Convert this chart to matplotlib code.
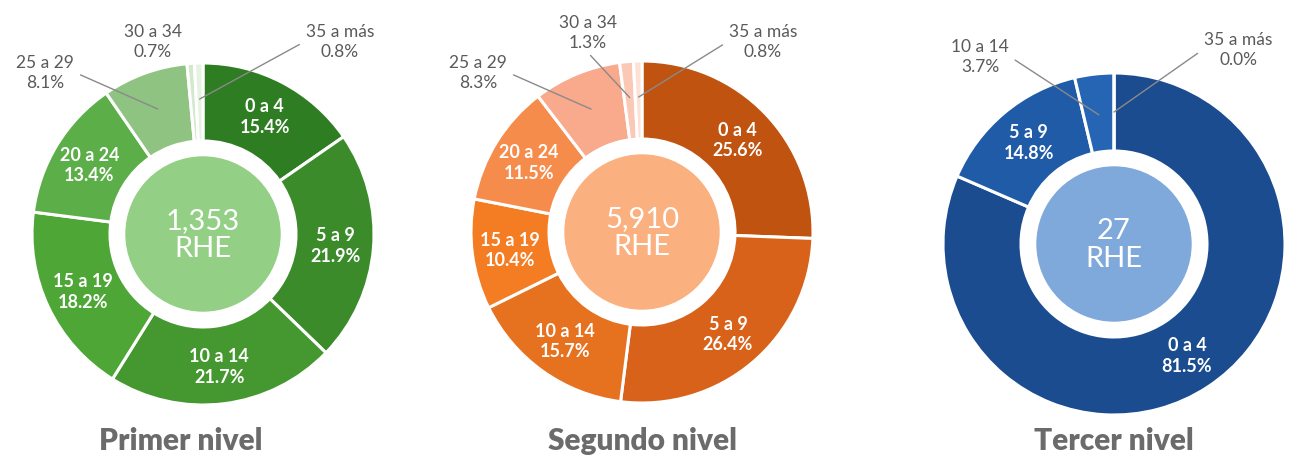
import numpy as np
import matplotlib
matplotlib.use("Agg")
import matplotlib.pyplot as plt

plt.rcParams['font.family'] = ['Lato', 'DejaVu Sans']

# data (percent of RHE by age group)
cats_1 = ["0 a 4", "5 a 9", "10 a 14", "15 a 19", "20 a 24", "25 a 29", "30 a 34", "35 a más"]
pct_1 = [15.4, 21.9, 21.7, 18.2, 13.4, 8.1, 0.7, 0.8]
total_1 = "1,353"

cats_2 = ["0 a 4", "5 a 9", "10 a 14", "15 a 19", "20 a 24", "25 a 29", "30 a 34", "35 a más"]
pct_2 = [25.6, 26.4, 15.7, 10.4, 11.5, 8.3, 1.3, 0.8]
total_2 = "5,910"

cats_3 = ["0 a 4", "5 a 9", "10 a 14", "35 a más"]
pct_3 = [81.5, 14.8, 3.7, 0.0]
total_3 = "27"

titles = ["Primer nivel", "Segundo nivel", "Tercer nivel"]

greens = ["#2f7d22", "#3b8b2b", "#45972f", "#4da636", "#5cae48", "#8fc381", "#d3e8cc", "#e6f2e2"]
oranges = ["#bf530f", "#d8621a", "#e6711f", "#f47c22", "#f68c4b", "#f9a98c", "#fbc8b6", "#fde1d6"]
blues = ["#1b4c90", "#1f5ba7", "#2664b4", "#2d6cc0"]
centers_col = ["#93cf85", "#fbb07f", "#7fa9db"]

H = 456
fig = plt.figure(figsize=(12.91, 4.56), dpi=100)
ax = fig.add_axes([0, 0, 1, 1])

R_OUT = 171
R_IN = 93
R_LAB = 133

donuts = [
    dict(cats=cats_1, pct=pct_1, total=total_1, colors=greens, c=(203, H - 235),
         outside={"25 a 29": ((45, H - 73), (1, 0.5), R_LAB),
                  "30 a 34": ((153, H - 42), None, None),
                  "35 a más": ((340, H - 42), (0, 0.5), 135)}),
    dict(cats=cats_2, pct=pct_2, total=total_2, colors=oranges, c=(642, H - 233),
         outside={"25 a 29": ((478, H - 73), (1, 0.5), R_LAB),
                  "30 a 34": ((588, H - 33), (0.45, 0), 135),
                  "35 a más": ((763, H - 42), (0, 0.5), 135)}),
    dict(cats=cats_3, pct=pct_3, total=total_3, colors=blues, c=(1114, H - 245),
         outside={"10 a 14": ((980, H - 57), (1, 0.5), 130),
                  "35 a más": ((1238, H - 50), (0, 0.5), 132)}),
]

for i, d in enumerate(donuts):
    cx, cy = d["c"]
    wedges, _ = ax.pie(d["pct"], colors=d["colors"], startangle=90, counterclock=False,
                       center=(cx, cy), radius=R_OUT,
                       wedgeprops=dict(width=R_OUT - R_IN, edgecolor="white", linewidth=2.2))
    for w, cat, p in zip(wedges, d["cats"], d["pct"]):
        lab = f"{cat}\n{p:.1f}%"
        ang = np.deg2rad((w.theta1 + w.theta2) / 2)
        if cat in d["outside"]:
            pos, rel, r = d["outside"][cat]
            if rel is None:
                ax.text(pos[0], pos[1], lab, ha="center", va="center", fontsize=12.5,
                        color="#5a5a5a", linespacing=1.25)
            else:
                px = cx + r * np.cos(ang)
                py = cy + r * np.sin(ang)
                ax.annotate(lab, xy=(px, py), xytext=pos, ha="center", va="center",
                            fontsize=12.5, color="#5a5a5a", linespacing=1.25,
                            arrowprops=dict(arrowstyle="-", color="#8a8a8a", lw=1,
                                            relpos=rel, shrinkA=3, shrinkB=0))
        else:
            ax.text(cx + R_LAB * np.cos(ang), cy + R_LAB * np.sin(ang), lab,
                    ha="center", va="center", fontsize=13, color="white",
                    fontweight="bold", linespacing=1.25)
    ax.add_patch(plt.Circle((cx, cy), 77, color=centers_col[i], zorder=3))
    ax.text(cx, cy, f"{d['total']}\nRHE", ha="center", va="center", fontsize=21,
            color="white", linespacing=1.1, zorder=4)
    ax.text(cx - (22 if i == 0 else 0), 15, titles[i], ha="center", va="center", fontsize=21.5,
            color="#6b6b6b", fontweight="heavy")

ax.set_xlim(0, 1291)
ax.set_ylim(0, H)
ax.set_aspect("equal")
ax.axis("off")

fig.savefig("out.png", dpi=100)
